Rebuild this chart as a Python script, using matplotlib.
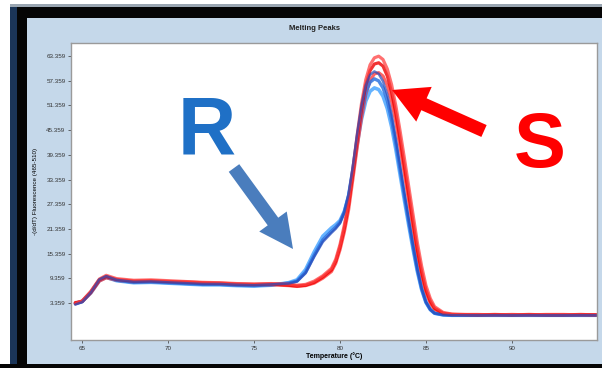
import matplotlib
matplotlib.use("Agg")
import matplotlib.pyplot as plt
import matplotlib.patches as mpatches
import matplotlib.transforms as mtrans

plt.rcParams['font.family'] = ['Liberation Sans', 'DejaVu Sans']

# ---------------- data ----------------
temps = [64.6, 65.0, 65.5, 66.0, 66.4, 67.0, 68.0, 69.0, 70.0, 71.0, 72.0, 73.0, 74.0, 75.0, 76.0,
         77.0, 77.5, 78.0, 78.5, 79.0,
         79.5, 79.75, 80.0, 80.25, 80.5, 80.75, 81.0, 81.25, 81.5, 81.75, 82.0, 82.25, 82.5,
         82.75, 83.0, 83.25, 83.5, 83.75, 84.0, 84.25, 84.5, 84.75, 85.0, 85.25, 85.5,
         86.0, 86.5, 87.0, 88.0, 89.0, 90.0, 91.0, 92.0, 93.0, 94.0, 94.9]

red_s1 = [3.2, 3.9, 6.2, 9.2, 10.1, 9.3, 8.9, 9.0, 8.8, 8.6, 8.4, 8.3, 8.1, 8.0, 8.1,
          8.0, 7.7, 7.9, 8.7, 10.0,
          11.8, 14.0, 17.6, 22.3, 28.2, 36.0, 44.2, 51.8, 57.6, 61.2, 62.9, 63.3, 62.5,
          60.2, 56.4, 51.2, 45.0, 38.4, 31.6, 24.8, 18.0, 12.3, 7.6, 4.5, 2.5,
          1.1, 0.7, 0.6, 0.6, 0.5, 0.6, 0.5, 0.6, 0.6, 0.5, 0.5]
red_s2 = [3.4, 3.8, 6.0, 9.0, 9.8, 9.1, 8.7, 8.8, 8.6, 8.5, 8.3, 8.2, 8.0, 7.9, 8.0,
          7.7, 7.5, 7.7, 8.4, 9.7,
          11.4, 13.5, 17.0, 21.5, 27.2, 35.0, 43.0, 50.5, 56.3, 59.8, 61.4, 61.7, 60.9,
          58.5, 54.6, 49.3, 43.0, 36.3, 29.6, 22.8, 16.2, 10.8, 6.5, 3.8, 2.1,
          0.9, 0.6, 0.6, 0.5, 0.6, 0.5, 0.6, 0.5, 0.5, 0.6, 0.5]
red_s3 = [3.5, 3.7, 5.8, 8.7, 9.5, 8.9, 8.5, 8.6, 8.4, 8.3, 8.1, 8.0, 7.8, 7.7, 7.8,
          7.6, 7.4, 7.6, 8.2, 9.4,
          11.0, 13.0, 16.3, 20.6, 26.0, 33.5, 41.2, 48.4, 54.0, 57.4, 59.0, 59.3, 58.5,
          56.2, 52.4, 47.2, 41.0, 34.5, 27.9, 21.3, 15.0, 9.8, 5.8, 3.3, 1.8,
          0.8, 0.6, 0.5, 0.5, 0.5, 0.5, 0.5, 0.5, 0.5, 0.5, 0.5]

blue_r1 = [3.0, 3.6, 5.9, 9.1, 9.9, 9.0, 8.5, 8.6, 8.4, 8.2, 8.0, 8.0, 7.8, 7.7, 7.9,
           8.1, 8.6, 10.6, 14.6, 18.2,
           20.4, 21.4, 22.7, 25.4, 29.8, 36.6, 44.6, 51.4, 56.2, 58.8, 59.6, 59.0, 57.2,
           54.0, 49.2, 43.2, 36.6, 30.0, 23.6, 17.4, 11.6, 6.9, 3.6, 1.8, 0.9,
           0.5, 0.4, 0.4, 0.4, 0.4, 0.4, 0.4, 0.4, 0.4, 0.4, 0.4]
blue_r2 = [3.2, 3.7, 6.0, 9.0, 9.8, 8.9, 8.4, 8.5, 8.3, 8.1, 7.9, 7.9, 7.7, 7.6, 7.8,
           8.2, 8.7, 10.9, 15.0, 18.7,
           20.8, 21.8, 23.0, 25.5, 29.6, 36.0, 43.5, 50.0, 54.5, 57.0, 57.8, 57.3, 55.6,
           52.5, 47.8, 42.0, 35.6, 29.2, 23.0, 17.0, 11.4, 6.8, 3.6, 1.8, 0.9,
           0.5, 0.4, 0.4, 0.4, 0.4, 0.4, 0.4, 0.4, 0.4, 0.4, 0.4]
blue_r3 = [3.3, 3.8, 5.8, 8.8, 9.6, 8.8, 8.3, 8.4, 8.2, 8.0, 7.8, 7.8, 7.6, 7.5, 7.7,
           8.3, 9.0, 11.5, 15.8, 19.6,
           21.6, 22.4, 23.4, 25.6, 29.2, 35.0, 42.0, 48.0, 52.4, 54.8, 55.6, 55.2, 53.6,
           50.6, 46.2, 40.6, 34.4, 28.2, 22.2, 16.4, 11.0, 6.6, 3.5, 1.8, 0.9,
           0.5, 0.4, 0.4, 0.4, 0.4, 0.4, 0.4, 0.4, 0.4, 0.4, 0.4]

xticks = [65, 70, 75, 80, 85, 90]
yticks = [3.359, 9.359, 15.359, 21.359, 27.359, 33.359, 39.359, 45.359, 51.359, 57.359, 63.359]
ytick_labels = ["3.359", "9.359", "15.359", "21.359", "27.359", "33.359",
                "39.359", "45.359", "51.359", "57.359", "63.359"]

# ---------------- figure ----------------
W, H = 602, 368
fig = plt.figure(figsize=(W / 100, H / 100), dpi=100)
fig.patch.set_facecolor('#c5d8ea')

ident = mtrans.IdentityTransform()

def rect_px(x, y, w, h, color):
    fig.patches.append(mpatches.Rectangle((x, H - y - h), w, h, transform=ident,
                                          facecolor=color, edgecolor='none', zorder=0))

rect_px(0, 0, 10, H, '#ffffff')
rect_px(10, 0, 7, H, '#1b3558')
rect_px(17, 0, 10, H, '#050505')
rect_px(0, 0, W, 4, '#ffffff')
rect_px(10, 4, W, 3, '#9aa6b2')
rect_px(17, 7, W, 11, '#050505')
rect_px(0, 364, W, 4, '#050505')

ax = fig.add_axes([71 / W, 1 - 340 / H, 526 / W, 297 / H])
ax.set_facecolor('white')

kw = dict(solid_joinstyle='round', solid_capstyle='round')
ax.plot(temps, blue_r3, color='#4aa6ff', lw=2.6, alpha=0.85, **kw)
ax.plot(temps, red_s3, color='#ff3030', lw=2.3, alpha=0.75, **kw)
ax.plot(temps, blue_r2, color='#2f74e0', lw=2.4, alpha=0.85, **kw)
ax.plot(temps, red_s2, color='#ee0000', lw=2.3, alpha=0.8, **kw)
ax.plot(temps, red_s1, color='#ff4040', lw=2.3, alpha=0.75, **kw)
ax.plot(temps, blue_r1, color='#2448b8', lw=1.8, alpha=0.7, **kw)

ax.set_xlim(64.35, 94.95)
ax.set_ylim(-5.6, 66.5)
ax.set_xticks(xticks)
ax.set_xticklabels([str(t) for t in xticks])
ax.set_yticks(yticks)
ax.set_yticklabels(ytick_labels)
ax.tick_params(axis='both', labelsize=4.5, length=2, width=0.5, colors='#333333', pad=2)
for s in ax.spines.values():
    s.set_color('#9a9a9a')
    s.set_linewidth(1.0)

ax.set_xlabel('Temperature (°C)', fontsize=5, fontweight='bold', labelpad=1)
ax.set_ylabel('-(d/dT) Fluorescence (465-510)', fontsize=4.5, labelpad=6)
fig.text(315 / W, 1 - 28 / H, 'Melting Peaks', fontsize=5.5, fontweight='bold',
         ha='center', va='center', color='#222222')

fig.text(207 / W, 1 - 133 / H, 'R', fontsize=58, fontweight='bold', color='#1f70c6',
         ha='center', va='center')
fig.text(540 / W, 1 - 146 / H, 'S', fontsize=56, fontweight='bold', color='#ff0000',
         ha='center', va='center')

def arrow_px(x0, y0, x1, y1, width, hw, hl, color):
    a = mpatches.FancyArrow(x0, H - y0, x1 - x0, -(y1 - y0), width=width, head_width=hw,
                            head_length=hl, length_includes_head=True, transform=ident,
                            facecolor=color, edgecolor='none', zorder=5)
    fig.patches.append(a)

arrow_px(234, 168, 293, 249, 13, 34, 34, '#4a7dbd')
arrow_px(484, 131, 392, 90, 13, 38, 35, '#ff0000')

fig.savefig('out.png', dpi=100, facecolor=fig.get_facecolor())
